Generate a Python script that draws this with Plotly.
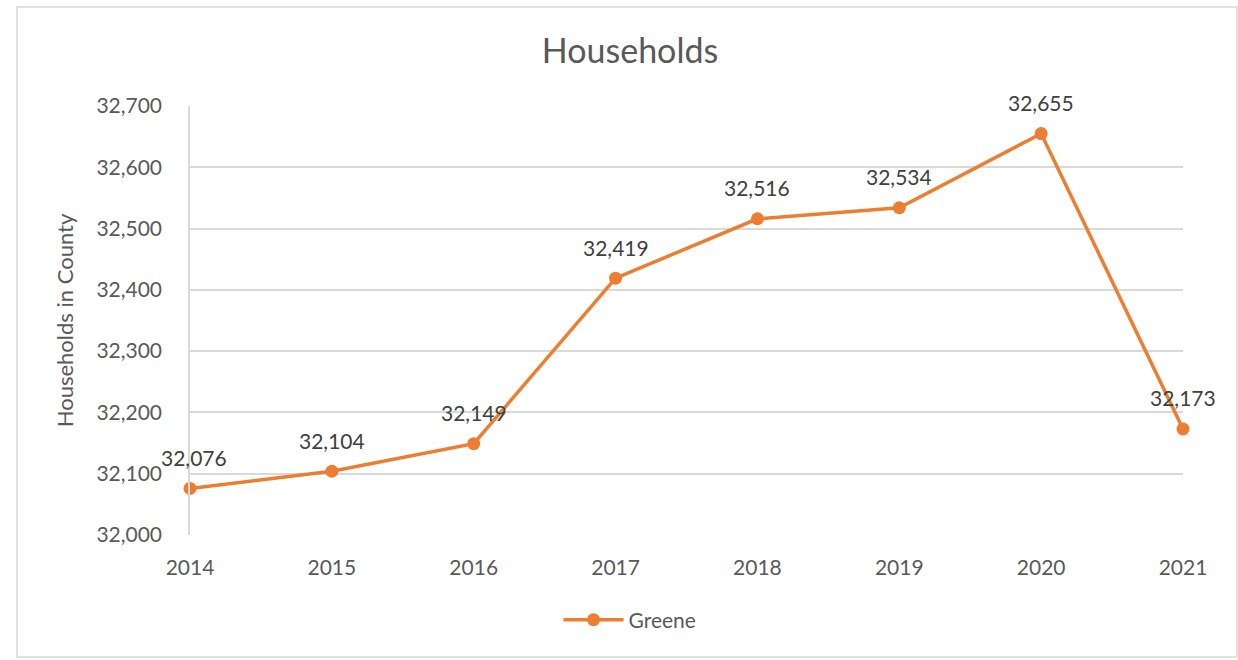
import plotly.graph_objects as go

years = ["2014", "2015", "2016", "2017", "2018", "2019", "2020", "2021"]
households = [32076, 32104, 32149, 32419, 32516, 32534, 32655, 32173]
series_name = "Greene"
y_ticks = [32000, 32100, 32200, 32300, 32400, 32500, 32600, 32700]

ORANGE = "#ED7D31"
GRAY = "#595959"
FONT = "Lato"
FS = 21

L, R, T, B = 190, 1238 - 1183, 106, 660 - 535
W, H = 1238 - L - R, 660 - T - B

fig = go.Figure()
fig.add_trace(go.Scatter(
    x=years, y=households, name=series_name,
    mode="lines+markers",
    line=dict(color=ORANGE, width=3.5),
    marker=dict(color=ORANGE, size=13),
    cliponaxis=False,
))

# category axis: annotation x given as the category index
annotations = [
    dict(x=i, y=v, xref="x", yref="y", text=f"{v:,}", showarrow=False,
         yshift=31, xshift=4 if i == 0 else 0,
         font=dict(family=FONT, size=FS, color="#404040"))
    for i, v in enumerate(households)
]

def px_x(x):
    return (x - L) / W

def px_y(y):
    return (660 - B - y) / H

fig.update_layout(
    width=1238, height=660,
    margin=dict(l=L, r=R, t=T, b=B),
    paper_bgcolor="white", plot_bgcolor="white",
    font=dict(family=FONT, color=GRAY, size=FS),
    title=dict(text="Households", x=px_x(630), xanchor="center", y=1 - 51 / 660, yanchor="middle",
               xref="paper", font=dict(family=FONT, size=34, color=GRAY)),
    showlegend=True,
    legend=dict(orientation="h", x=px_x(630), xanchor="center", y=px_y(620), yanchor="middle",
                font=dict(family=FONT, size=FS, color=GRAY), itemwidth=60),
    xaxis=dict(type="category", range=[0, len(years) - 1], showgrid=False,
               showline=False, ticks="", tickfont=dict(family=FONT, size=FS, color=GRAY),
               ticklabelstandoff=18, zeroline=False),
    yaxis=dict(range=[32000, 32700], tickvals=y_ticks, ticktext=[f"{v:,}" for v in y_ticks],
               showgrid=True, gridcolor="#D9D9D9", gridwidth=1.5,
               showline=True, linecolor="#D9D9D9", linewidth=1.5,
               ticks="", tickfont=dict(family=FONT, size=FS, color=GRAY),
               ticklabelstandoff=22, zeroline=False,
               title=dict(text="Households in County", standoff=17,
                          font=dict(family=FONT, size=22, color=GRAY))),
    annotations=annotations,
    shapes=[dict(type="rect", xref="paper", yref="paper",
                 x0=px_x(17), x1=px_x(1237), y0=px_y(657), y1=px_y(7),
                 line=dict(color="#D9D9D9", width=1.5), layer="below")],
)

fig.write_html("out.html")
